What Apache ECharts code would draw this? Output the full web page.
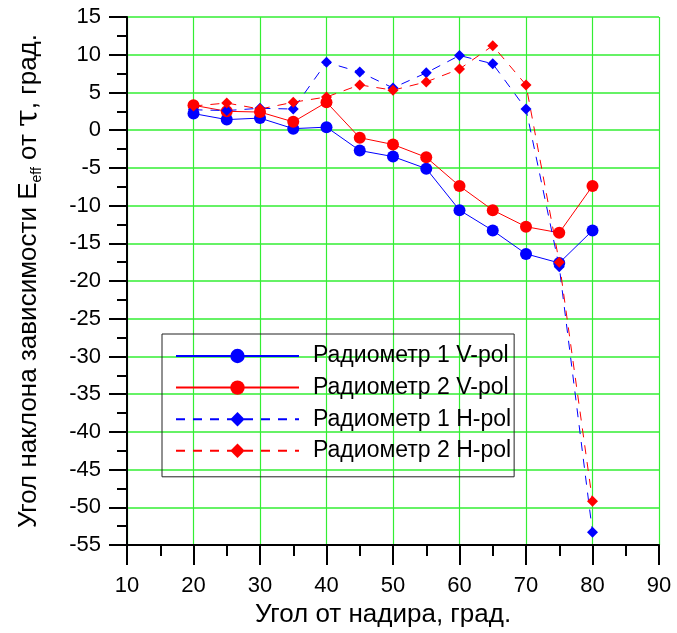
<!DOCTYPE html>
<html style="height: 100%">
<head>
    <meta charset="utf-8">
    <title>Угол наклона зависимости</title>
    <script src="https://cdn.jsdelivr.net/npm/echarts@6/dist/echarts.min.js"></script>
</head>
<body style="height: 100%; margin: 0; background: #fff">
    <div id="chart" style="width: 677px; height: 633px"></div>
    <script>
        // углы от надира, град.
        const angles = [20, 25, 30, 35, 40, 45, 50, 55, 60, 65, 70, 75, 80];
        // значения
        const rad1V = [2.2, 1.4, 1.6, 0.2, 0.4, -2.7, -3.5, -5.1, -10.6, -13.3, -16.4, -17.6, -13.3];
        const rad2V = [3.3, 2.5, 2.4, 1.1, 3.7, -1.0, -1.9, -3.6, -7.4, -10.6, -12.8, -13.6, -7.4];
        const rad1H = [2.7, 2.6, 2.9, 2.8, 9.0, 7.7, 5.6, 7.6, 9.9, 8.8, 2.8, -18.1, -53.3];
        const rad2H = [3.2, 3.6, 2.8, 3.7, 4.4, 6.0, 5.3, 6.4, 8.1, 11.2, 6.0, -17.5, -49.2];

        const font = 'Liberation Sans, Arial, sans-serif';

        function pairs(values) {
            return angles.map((a, i) => [a, values[i]]);
        }

        function makeSeries(name, values, color, dashed) {
            return {
                name: name,
                type: 'line',
                data: pairs(values),
                symbol: dashed ? 'diamond' : 'circle',
                symbolSize: dashed ? 11 : 12,
                color: color,
                lineStyle: {
                    color: color,
                    width: 1,
                    type: dashed ? [9, 8] : 'solid'
                },
                itemStyle: { color: color },
                animation: false
            };
        }

        const option = {
            backgroundColor: '#fff',
            textStyle: { fontFamily: font },
            grid: { left: 127, right: 18, top: 17, bottom: 85 },
            legend: {
                orient: 'vertical',
                left: 162,
                top: 334,
                padding: [10, 3, 14, 13],
                itemWidth: 123,
                itemHeight: 18,
                itemGap: 7.6,
                borderColor: '#222',
                borderWidth: 1,
                textStyle: { fontSize: 23, lineHeight: 24, color: '#000', fontFamily: font, padding: [0, 0, 0, 9] }
            },
            xAxis: {
                type: 'value',
                min: 10,
                max: 90,
                interval: 10,
                name: 'Угол от надира, град.',
                nameLocation: 'middle',
                nameGap: 51,
                nameTextStyle: { fontSize: 26, color: '#000', fontFamily: font, padding: [0, 20, 0, 0] },
                axisLine: { onZero: false, lineStyle: { color: '#000', width: 2 } },
                axisTick: { length: 20, lineStyle: { color: '#000', width: 2 } },
                minorTick: { show: true, splitNumber: 2, length: 11, lineStyle: { color: '#000', width: 2 } },
                axisLabel: { fontSize: 22, color: '#000', margin: 30 },
                splitLine: { show: true, lineStyle: { color: '#33ee33', width: 1.2 } }
            },
            yAxis: {
                type: 'value',
                min: -55,
                max: 15,
                interval: 5,
                name: '{n|Угол наклона зависимости E}{sub|eff}{n| от }{tau|τ}{n|, град.}',
                nameLocation: 'middle',
                nameRotate: 90,
                nameGap: 83,
                nameTextStyle: {
                    rich: {
                        n: { fontSize: 26, color: '#000', fontFamily: font, lineHeight: 30 },
                        sub: { fontSize: 14, color: '#000', fontFamily: font, verticalAlign: 'bottom', lineHeight: 30 },
                        tau: { fontSize: 32, color: '#000', fontFamily: 'DejaVu Serif, serif', lineHeight: 30 }
                    }
                },
                axisLine: { onZero: false, lineStyle: { color: '#000', width: 2 } },
                axisTick: { length: 18, lineStyle: { color: '#000', width: 2 } },
                minorTick: { show: true, splitNumber: 2, length: 10, lineStyle: { color: '#000', width: 2 } },
                axisLabel: { fontSize: 22, color: '#000', margin: 26 },
                splitLine: { show: true, lineStyle: { color: '#66f266', width: 2 } }
            },
            series: [
                makeSeries('Радиометр 1 V-pol', rad1V, '#0000ff', false),
                makeSeries('Радиометр 2 V-pol', rad2V, '#ff0000', false),
                makeSeries('Радиометр 1 H-pol', rad1H, '#0000ff', true),
                makeSeries('Радиометр 2 H-pol', rad2H, '#ff0000', true)
            ]
        };

        const chart = echarts.init(document.getElementById('chart'), null, { renderer: 'canvas' });
        chart.setOption(option);
    </script>
</body>
</html>
